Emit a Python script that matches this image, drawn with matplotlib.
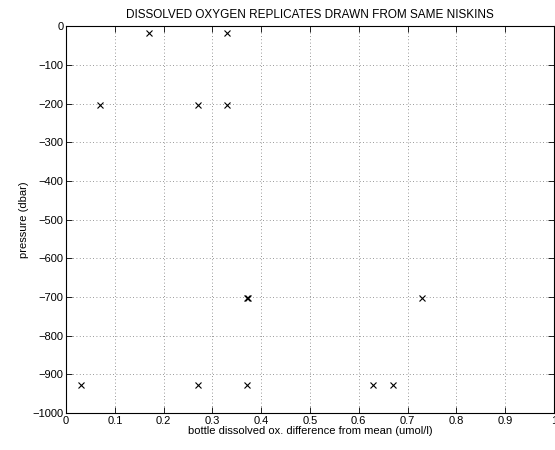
import matplotlib
matplotlib.use("Agg")
import matplotlib.pyplot as plt

# replicate differences from mean (umol/l) and bottle pressure (dbar)
diff_ox = [0.17, 0.33,
           0.07, 0.27, 0.33,
           0.37, 0.372, 0.73,
           0.03, 0.27, 0.37, 0.63, 0.67]
pressure = [-17, -17,
            -205, -205, -205,
            -703, -703, -703,
            -928, -928, -928, -928, -928]

xticks = [0, 0.1, 0.2, 0.3, 0.4, 0.5, 0.6, 0.7, 0.8, 0.9, 1]
xticklabels = ["0", "0.1", "0.2", "0.3", "0.4", "0.5", "0.6", "0.7", "0.8", "0.9", "1"]
yticks = list(range(-1000, 1, 100))

plt.rcParams['font.family'] = ['Liberation Sans', 'DejaVu Sans']
plt.rcParams['font.size'] = 8

fig = plt.figure(figsize=(5.55, 4.5), dpi=100)
ax = fig.add_axes([0.119, 0.082, 0.879, 0.860])

ax.plot(diff_ox, pressure, 'kx', markersize=5, markeredgewidth=0.8)

ax.set_xlim(0, 1)
ax.set_ylim(-1000, 0)
ax.set_xticks(xticks)
ax.set_xticklabels(xticklabels)
ax.set_yticks(yticks)
ax.tick_params(direction='in', top=True, right=True, length=4, width=0.6, pad=2)
ax.grid(True, linestyle=(0, (1, 3)), color='#777777', linewidth=0.6)
for s in ax.spines.values():
    s.set_linewidth(0.8)

ax.set_xlabel("bottle dissolved ox. difference from mean (umol/l)", labelpad=0)
ax.set_ylabel("pressure (dbar)", labelpad=2)
ax.set_title("DISSOLVED OXYGEN REPLICATES DRAWN FROM SAME NISKINS", fontsize=8.5, pad=6)

fig.savefig("out.png", dpi=100)
